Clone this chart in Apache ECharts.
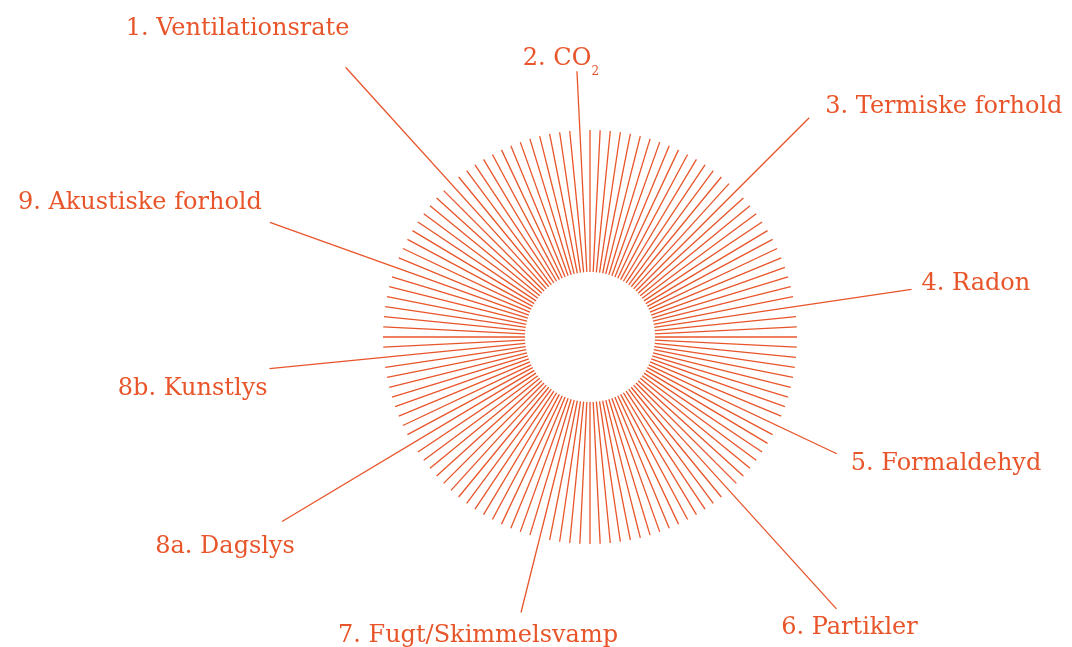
<!DOCTYPE html>
<html>
<head>
<meta charset="utf-8">
<script src="https://cdn.jsdelivr.net/npm/echarts@6/dist/echarts.min.js"></script>
<style>
  html, body { margin: 0; padding: 0; background: #ffffff; }
  #chart { width: 1072px; height: 647px; }
</style>
</head>
<body>
<div id="chart"></div>
<script>
// ---- DATA ----
// 128 radial lines, slot 0 at the top, going clockwise.
// Value = outer radius of each line (regular ring lines = 207, leader lines longer).
const ringInner = 65;
const outerRadius = [
  207, 207, 207, 207, 207, 207, 207, 207, 207, 207, 207, 207, 207, 207, 207, 207,
  310, 207, 207, 207, 207, 207, 207, 207, 207, 207, 207, 207, 207, 325, 207, 207,
  207, 207, 207, 207, 207, 207, 207, 207, 207, 273, 207, 207, 207, 207, 207, 207,
  207, 367, 207, 207, 207, 207, 207, 207, 207, 207, 207, 207, 207, 207, 207, 207,
  207, 207, 207, 207, 207, 284, 207, 207, 207, 207, 207, 207, 207, 207, 207, 207,
  207, 207, 207, 207, 207, 359, 207, 207, 207, 207, 207, 207, 207, 207, 322, 207,
  207, 207, 207, 207, 207, 207, 207, 340, 207, 207, 207, 207, 207, 207, 207, 207,
  207, 364, 207, 207, 207, 207, 207, 207, 207, 207, 207, 207, 207, 207, 207, 266
];
const labelTexts = [
  '1. Ventilationsrate', '2. CO', '3. Termiske forhold', '4. Radon', '5. Formaldehyd',
  '6. Partikler', '7. Fugt/Skimmelsvamp', '8a. Dagslys', '8b. Kunstlys', '9. Akustiske forhold'
];
const labelSubscripts = ['', '2', '', '', '', '', '', '', '', ''];
const labelSlots = [113, 127, 16, 29, 41, 49, 69, 85, 94, 103];

// ---- LAYOUT / STYLE (kept apart from data) ----
const COLOR = '#e8552a';
const FONT = '"DejaVu Serif", serif';
const labelLayout = [
  { align: 'center', dx: -108, dy: -39 },
  { align: 'center', dx: -16,  dy: -12.5 },
  { align: 'left',   dx: 16,   dy: -11.5 },
  { align: 'left',   dx: 10,   dy: -5.5 },
  { align: 'left',   dx: 14,   dy: 10.5 },
  { align: 'center', dx: 13,   dy: 18.5 },
  { align: 'center', dx: -43,  dy: 23 },
  { align: 'center', dx: -57,  dy: 25.5 },
  { align: 'right',  dx: -2,   dy: 20.5 },
  { align: 'right',  dx: -8,   dy: -19.5 }
];

const chart = echarts.init(document.getElementById('chart'), null, { renderer: 'canvas' });

const seriesData = outerRadius.map((r, i) => [r, i]);

function renderItem(params, api) {
  const r = api.value(0);
  const slot = api.value(1);
  const p0 = api.coord([ringInner, slot]);
  const p1 = api.coord([r, slot]);
  const children = [{
    type: 'line',
    shape: { x1: p0[0], y1: p0[1], x2: p1[0], y2: p1[1] },
    style: { stroke: COLOR, lineWidth: 1.3 }
  }];
  const li = labelSlots.indexOf(slot);
  if (li >= 0) {
    const lay = labelLayout[li];
    const sub = labelSubscripts[li];
    const text = sub ? '{m|' + labelTexts[li] + '}{s|' + sub + '}' : '{m|' + labelTexts[li] + '}';
    children.push({
      type: 'text',
      x: p1[0] + lay.dx,
      y: p1[1] + lay.dy,
      style: {
        text: text,
        align: lay.align,
        verticalAlign: 'middle',
        fill: COLOR,
        rich: {
          m: { fontFamily: FONT, fontSize: 24, fill: COLOR, lineHeight: sub ? 39 : 24, verticalAlign: 'middle' },
          s: { fontFamily: FONT, fontSize: 12, fill: COLOR, lineHeight: 12, verticalAlign: 'bottom' }
        }
      }
    });
  }
  return { type: 'group', children: children };
}

chart.setOption({
  backgroundColor: '#ffffff',
  animation: false,
  polar: { center: [590, 337], radius: 400 },
  radiusAxis: { type: 'value', min: 0, max: 400, show: false },
  angleAxis: { type: 'value', min: 0, max: 128, startAngle: 90, clockwise: true, show: false },
  series: [{
    type: 'custom',
    coordinateSystem: 'polar',
    renderItem: renderItem,
    data: seriesData,
    silent: true
  }]
});
</script>
</body>
</html>
